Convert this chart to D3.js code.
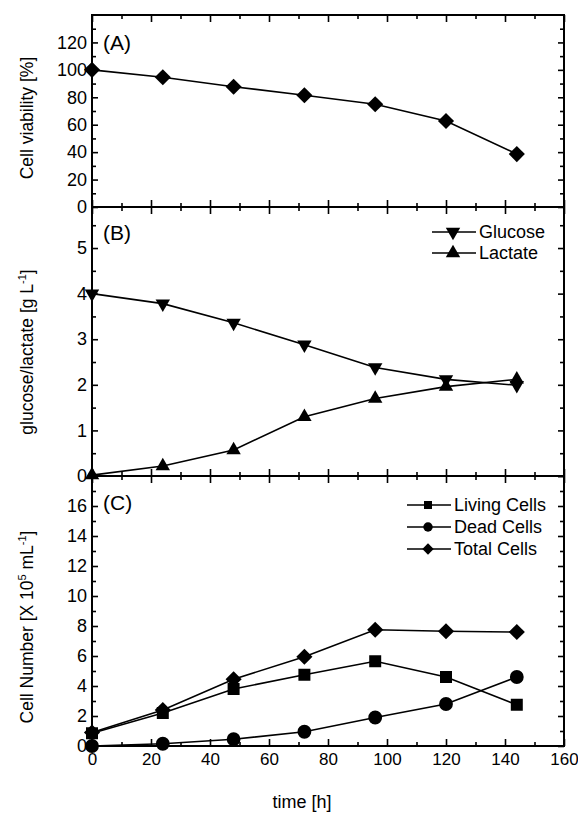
<!DOCTYPE html>
<html>
<head>
<meta charset="utf-8">
<script src="https://d3js.org/d3.v7.min.js"></script>
<style>
  body { margin: 0; background: #fff; }
  text { font-family: "Liberation Sans", Arial, sans-serif; fill: #000; }
</style>
</head>
<body>
<div id="stage"></div>
<script>
// time points [h]
var hours = [0, 24, 48, 72, 96, 120, 144];
// (A) viability [%]
var viability = [100, 94.6, 87.7, 81.5, 74.9, 62.7, 38.6];
// (B) g/L
var glucose = [4.0, 3.78, 3.36, 2.88, 2.38, 2.12, 1.99];
var lactate = [0.02, 0.22, 0.57, 1.3, 1.7, 1.96, 2.12];
// (C) x 10^5 per mL
var living = [0.85, 2.2, 3.8, 4.75, 5.65, 4.6, 2.75];
var dead = [0.0, 0.15, 0.45, 0.95, 1.9, 2.8, 4.6];
var total = [0.9, 2.4, 4.45, 5.95, 7.75, 7.65, 7.6];

// tick labels
var xTicks = [0, 20, 40, 60, 80, 100, 120, 140, 160];
var aTicks = [0, 20, 40, 60, 80, 100, 120];
var bTicks = [0, 1, 2, 3, 4, 5];
var cTicks = [0, 2, 4, 6, 8, 10, 12, 14, 16];

var stage_width = 578;
var stage_height = 813;
var plot_left = 92;
var plot_right = 564;

build_scene();

function build_scene() {
  var svg = d3
    .select("#stage")
    .append("svg")
    .attr("width", stage_width)
    .attr("height", stage_height);

  var x = d3.scaleLinear().domain([0, 160]).range([plot_left, plot_right]);

  var yA = d3.scaleLinear().domain([0, 140]).range([207, 15]);
  var yB = d3.scaleLinear().domain([0, 5.9]).range([476, 207]);
  var yC = d3.scaleLinear().domain([0, 18]).range([746, 476]);

  draw_frame(svg, x, yA, aTicks, d3.range(10, 140, 20), false);
  draw_frame(svg, x, yB, bTicks, d3.range(0.5, 5.9, 1), false);
  draw_frame(svg, x, yC, cTicks.concat([18]), d3.range(1, 18, 2), true);

  // hide the label at the top of C (18)
  svg.selectAll(".ylab text").filter(function(d) { return d === 18; }).remove();

  // panel (A)
  draw_series(svg, x, yA, viability, "diamond");
  // panel (B)
  draw_series(svg, x, yB, glucose, "down");
  draw_series(svg, x, yB, lactate, "up");
  // panel (C)
  draw_series(svg, x, yC, living, "square");
  draw_series(svg, x, yC, dead, "circle");
  draw_series(svg, x, yC, total, "diamond");

  // panel letters
  svg.append("text").attr("x", 103).attr("y", 50).style("font-size", "21px").text("(A)");
  svg.append("text").attr("x", 103).attr("y", 240).style("font-size", "21px").text("(B)");
  svg.append("text").attr("x", 103).attr("y", 510).style("font-size", "21px").text("(C)");

  // legends
  draw_legend(svg, 432, 232, 21, [["down", "Glucose"], ["up", "Lactate"]]);
  draw_legend(svg, 407, 505, 22, [["square", "Living Cells"], ["circle", "Dead Cells"], ["diamond", "Total Cells"]]);

  // axis titles
  svg
    .append("text")
    .attr("transform", "translate(33,118) rotate(-90)")
    .attr("text-anchor", "middle")
    .style("font-size", "17.5px")
    .text("Cell viability [%]");

  var tB = svg
    .append("text")
    .attr("transform", "translate(33,352) rotate(-90)")
    .attr("text-anchor", "middle")
    .style("font-size", "17.5px");
  tB.append("tspan").text("glucose/lactate [g L");
  tB.append("tspan").attr("dy", -7).style("font-size", "11px").text("-1");
  tB.append("tspan").attr("dy", 7).text("]");

  var tC = svg
    .append("text")
    .attr("transform", "translate(33,627) rotate(-90)")
    .attr("text-anchor", "middle")
    .style("font-size", "17.5px");
  tC.append("tspan").text("Cell Number [X 10");
  tC.append("tspan").attr("dy", -7).style("font-size", "11px").text("5");
  tC.append("tspan").attr("dy", 7).text(" mL");
  tC.append("tspan").attr("dy", -7).style("font-size", "11px").text("-1");
  tC.append("tspan").attr("dy", 7).text("]");

  svg
    .append("text")
    .attr("x", 302)
    .attr("y", 808)
    .attr("text-anchor", "middle")
    .style("font-size", "18px")
    .text("time [h]");
}

function draw_frame(svg, x, y, yticks, yminor, showX) {
  var top = y.range()[1];
  var bottom = y.range()[0];

  // minor ticks on all four sides
  var minorX = d3.range(10, 160, 20);
  svg.append("g").attr("transform", "translate(0," + bottom + ")")
    .call(d3.axisBottom(x).tickValues(minorX).tickSize(-4).tickFormat(""));
  svg.append("g").attr("transform", "translate(0," + top + ")")
    .call(d3.axisTop(x).tickValues(minorX).tickSize(-4).tickFormat(""));
  svg.append("g").attr("transform", "translate(" + plot_left + ",0)")
    .call(d3.axisLeft(y).tickValues(yminor).tickSize(-4).tickFormat(""));
  svg.append("g").attr("transform", "translate(" + plot_right + ",0)")
    .call(d3.axisRight(y).tickValues(yminor).tickSize(-4).tickFormat(""));

  // major ticks
  var bx = svg.append("g").attr("transform", "translate(0," + bottom + ")")
    .call(d3.axisBottom(x).tickValues(xTicks).tickSize(-7).tickPadding(7)
      .tickFormat(showX ? d3.format("d") : ""));
  bx.selectAll("text").style("font-size", "17px");
  svg.append("g").attr("transform", "translate(0," + top + ")")
    .call(d3.axisTop(x).tickValues(xTicks).tickSize(-7).tickFormat(""));
  var ly = svg.append("g").attr("class", "ylab").attr("transform", "translate(" + plot_left + ",0)")
    .call(d3.axisLeft(y).tickValues(yticks).tickSize(-6).tickPadding(5).tickFormat(d3.format("d")));
  ly.selectAll("text").style("font-size", "18px");
  svg.append("g").attr("transform", "translate(" + plot_right + ",0)")
    .call(d3.axisRight(y).tickValues(yticks).tickSize(-6).tickFormat(""));

  svg.selectAll(".domain").remove();
  svg.selectAll(".tick line").attr("stroke", "#000").attr("stroke-width", 1.6);
  svg.selectAll(".tick text").attr("fill", "#000").style("font-family", '"Liberation Sans", Arial, sans-serif');

  // frame
  svg
    .append("rect")
    .attr("x", plot_left)
    .attr("y", top)
    .attr("width", plot_right - plot_left)
    .attr("height", bottom - top)
    .attr("fill", "none")
    .attr("stroke", "#000")
    .attr("stroke-width", 2);
}

function symbol_path(kind) {
  if (kind === "diamond") return d3.symbol().type(d3.symbolSquare).size(130)();
  if (kind === "up" || kind === "down") return d3.symbol().type(d3.symbolTriangle).size(90)();
  if (kind === "square") return d3.symbol().type(d3.symbolSquare).size(144)();
  return d3.symbol().type(d3.symbolCircle).size(150)();
}

function symbol_rotate(kind) {
  if (kind === "diamond") return 45;
  if (kind === "down") return 180;
  return 0;
}

function draw_series(svg, x, y, values, kind) {
  var pts = hours.map(function(h, i) {
    return { h: h, v: values[i] };
  });
  var line = d3
    .line()
    .x(function(d) { return x(d.h); })
    .y(function(d) { return y(d.v); });

  svg
    .append("path")
    .datum(pts)
    .attr("d", line)
    .attr("fill", "none")
    .attr("stroke", "#000")
    .attr("stroke-width", 1.6);

  svg
    .selectAll(null)
    .data(pts)
    .enter()
    .append("path")
    .attr("d", symbol_path(kind))
    .attr("transform", function(d) {
      return "translate(" + x(d.h) + "," + y(d.v) + ") rotate(" + symbol_rotate(kind) + ")";
    })
    .attr("fill", "#000");
}

function draw_legend(svg, lx, ly, step, items) {
  items.forEach(function(item, i) {
    var yy = ly + i * step;
    svg.append("line")
      .attr("x1", lx).attr("x2", lx + 44)
      .attr("y1", yy).attr("y2", yy)
      .attr("stroke", "#000").attr("stroke-width", 1.6);
    var small = item[0] === "circle" || item[0] === "diamond" || item[0] === "square";
    svg.append("path")
      .attr("d", small ? d3.symbol().type(item[0] === "circle" ? d3.symbolCircle : d3.symbolSquare).size(item[0] === "circle" ? 70 : 64)() : symbol_path(item[0]))
      .attr("transform", "translate(" + (lx + 21) + "," + yy + ") rotate(" + symbol_rotate(item[0]) + ")")
      .attr("fill", "#000");
    svg.append("text")
      .attr("x", lx + 47)
      .attr("y", yy)
      .attr("dy", "0.35em")
      .style("font-size", "18px")
      .text(item[1]);
  });
}
</script>
</body>
</html>
